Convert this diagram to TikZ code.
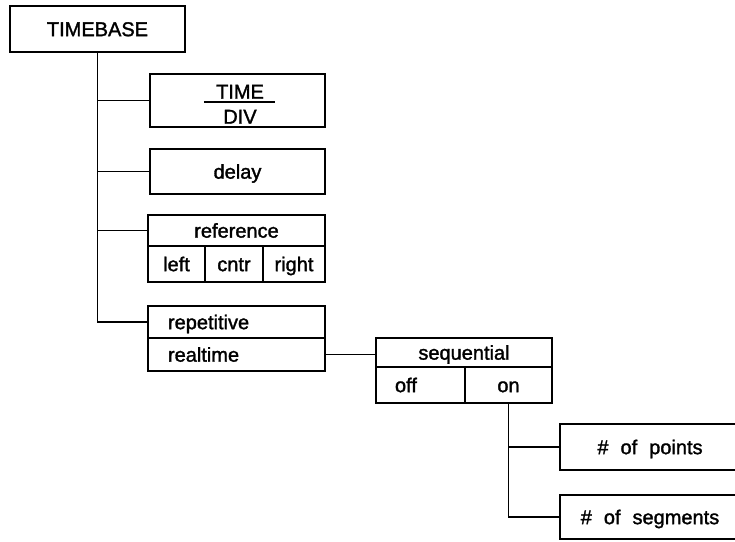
\documentclass[tikz,border=0pt]{standalone}
\usepackage{fontspec}
\setmainfont{Liberation Sans}[UprightFeatures={FakeBold=1.5}]
\usetikzlibrary{calc}
\tikzset{
  cell/.style={draw, line width=1.5pt, inner sep=0pt, text height=14.3pt, text depth=0pt, font=\fontsize{20}{24}\selectfont},
  txt/.style={inner sep=0pt, text height=14.3pt, text depth=0pt, font=\fontsize{20}{24}\selectfont},
  wire/.style={line width=1.5pt},
}
\begin{document}
\begin{tikzpicture}[x=1pt,y=-1pt]
        \clip (0,0) rectangle (735,541);
        \node[cell, minimum width=175pt, minimum height=46pt] (TB) at (97.5,29) {TIMEBASE};

        \node[cell, minimum width=175pt, minimum height=53pt] (TD) at (237.5,100.5) {};
        \node[txt] (Tnum) at (240,91.5) {TIME};
        \node[txt] (Tden) at (240,116.5) {DIV};
        \draw[line width=1.3pt] ($(Tnum.south west)+(-12,3)$) -- ($(Tnum.south east)+(11,3)$);

        \node[cell, minimum width=175pt, minimum height=45pt] (DL) at (237.5,171.5) {delay};

        \node[cell, minimum width=177pt, minimum height=31pt] (REF) at (236.5,230.5) {reference};
        \node[cell, minimum width=57pt, minimum height=36pt] (LFT) at (176.5,264) {left};
        \node[cell, minimum width=58pt, minimum height=36pt] (CTR) at (234,264) {cntr};
        \node[cell, minimum width=62pt, minimum height=36pt] (RGT) at (294,264) {right};

        \node[cell, minimum width=177pt, minimum height=32pt, text width=137pt, align=left] (REP) at (236.5,322) {repetitive};
        \node[cell, minimum width=177pt, minimum height=33pt, text width=137pt, align=left] (RT) at (236.5,354.5) {realtime};

        \node[cell, minimum width=176pt, minimum height=29pt] (SEQ) at (464,352.5) {sequential};
        \node[cell, minimum width=89pt, minimum height=36pt, text width=51pt, align=left] (OFF) at (420.5,385) {off};
        \node[cell, minimum width=87pt, minimum height=36pt] (ON) at (508.5,385) {on};

        \node[cell, minimum width=180pt, minimum height=46pt] (PTS) at (650,447) {\#\hspace{12pt}of\hspace{12pt}points};
        \node[cell, minimum width=180pt, minimum height=44pt] (SEG) at (650,517) {\#\hspace{12pt}of\hspace{12pt}segments};

        \draw[wire] (TB) |- (REP);
        \draw[wire] (TB.south |- TD) -- (TD);
        \draw[wire] (TB.south |- DL) -- (DL);
        \draw[wire] (TB.south |- REF) -- (REF);
        \draw[wire] (RT.east) -- (RT.east -| SEQ.west);
        \draw[wire] (ON) |- (PTS);
        \draw[wire] (ON) |- (SEG);
      \end{tikzpicture}
\end{document}
